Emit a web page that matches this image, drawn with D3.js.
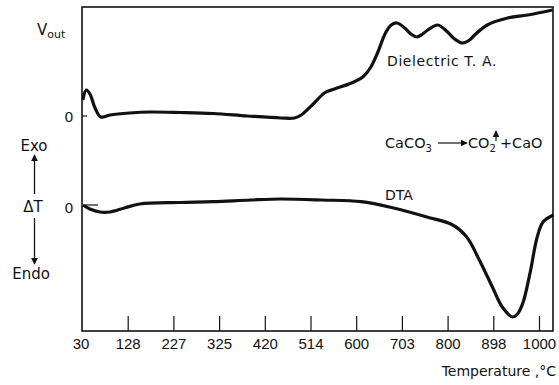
<!DOCTYPE html>
<html>
<head>
<meta charset="utf-8">
<script src="https://cdn.jsdelivr.net/npm/d3@7"></script>
<style>
  body { margin: 0; background: #fff; }
  svg text { font-family: "DejaVu Sans", sans-serif; fill: #111; }
  svg text.num { font-family: "Liberation Sans", Arial, sans-serif; }
</style>
</head>
<body>
<div id="chart"></div>
<script>
// temperature tick labels (evenly spaced on the axis)
const tempTicks = [30, 128, 227, 325, 420, 514, 600, 703, 800, 898, 1000];

// Dielectric thermal analysis trace (V_out, arbitrary units)
const dielTemp = [32, 39, 47, 58, 70, 90, 132, 176, 242, 312, 384, 453, 481, 495, 521, 540, 559, 591, 615, 633, 648, 666, 679, 692, 709, 722, 735, 747, 758, 779, 800, 815, 832, 847, 858, 885, 930, 975, 1030];
const dielVout = [16, 26, 22, 8, -1, 1, 3, 4, 3.5, 2.5, 0, -2, -2, 1, 13, 23, 27, 33, 39, 49, 63, 83, 91, 93, 88, 82, 79, 82, 86, 91, 84, 77, 73, 76, 81, 91, 98, 101, 106];

// DTA trace (delta T, arbitrary units)
const dtaTemp = [32, 47, 68, 90, 121, 154, 242, 312, 390, 453, 535, 611, 684, 756, 811, 841, 868, 896, 918, 941, 952, 964, 980, 996, 1009, 1032];
const dtaDelta = [2, -2, -5, -5, -1, 3, 4.5, 5.3, 7, 8, 7, 5.3, -1, -10, -18, -30, -53, -80, -100, -110, -107, -96, -66, -30, -15, -8];

const W = 559, H = 385;
const frame = { left: 82, right: 553, top: 7, bottom: 331 };

const svg = d3.select("#chart").append("svg")
    .attr("width", W)
    .attr("height", H);

// x: the printed tick values sit at equal spacing
const step = 45.7;
const x = d3.scaleLinear()
    .domain(tempTicks)
    .range(tempTicks.map((d, i) => frame.left + i * step));

const yDiel = d3.scaleLinear().domain([0, 100]).range([116, 16]);
const yDta = d3.scaleLinear().domain([0, -100]).range([207, 307]);

// frame
svg.append("rect")
    .attr("x", frame.left)
    .attr("y", frame.top)
    .attr("width", frame.right - frame.left)
    .attr("height", frame.bottom - frame.top)
    .attr("fill", "none")
    .attr("stroke", "#111")
    .attr("stroke-width", 1.6);

// bottom axis with inward ticks
const xAxis = d3.axisBottom(x)
    .tickValues(tempTicks)
    .tickSizeInner(-15)
    .tickSizeOuter(0)
    .tickPadding(3)
    .tickFormat(d3.format("d"));

const gx = svg.append("g")
    .attr("transform", `translate(0, ${frame.bottom})`)
    .call(xAxis);
gx.select(".domain").remove();
gx.selectAll("line").attr("stroke", "#111").attr("stroke-width", 1.2);
gx.selectAll("line").filter(d => d === 30).remove();
gx.selectAll("text")
    .attr("class", "num")
    .attr("dy", "1em")
    .attr("x", d => d === 30 ? -1.5 : 0)
    .style("font-size", "15px")
    .attr("fill", "#111");

svg.append("text")
    .attr("x", 556)
    .attr("y", 376)
    .attr("text-anchor", "end")
    .style("font-size", "14px")
    .text("Temperature ,°C");

// zero marks on the left
svg.append("line")
    .attr("x1", frame.left).attr("x2", frame.left + 5)
    .attr("y1", yDiel(0)).attr("y2", yDiel(0))
    .attr("stroke", "#111").attr("stroke-width", 1.2);
svg.append("line")
    .attr("x1", frame.left + 3).attr("x2", frame.left + 16)
    .attr("y1", yDta(0) - 2).attr("y2", yDta(0) - 2)
    .attr("stroke", "#111").attr("stroke-width", 1.2);

svg.append("text").attr("class", "num")
    .attr("x", 69).attr("y", yDiel(0) + 5.5)
    .attr("text-anchor", "middle")
    .style("font-size", "15px")
    .text("0");
svg.append("text").attr("class", "num")
    .attr("x", 69).attr("y", yDta(0) + 5.5)
    .attr("text-anchor", "middle")
    .style("font-size", "15px")
    .text("0");

// V_out label
const vout = svg.append("text")
    .attr("x", 37).attr("y", 35)
    .style("font-size", "15px");
vout.append("tspan").text("V");
vout.append("tspan").attr("dy", 3).style("font-size", "11px").text("out");

// Exo / delta T / Endo with arrows
svg.append("defs").append("marker")
    .attr("id", "head")
    .attr("viewBox", "0 0 10 10")
    .attr("refX", 9).attr("refY", 5)
    .attr("markerWidth", 7).attr("markerHeight", 8)
    .attr("markerUnits", "userSpaceOnUse")
    .attr("orient", "auto")
    .append("path")
    .attr("d", "M0,0 L10,5 L0,10 Z")
    .attr("fill", "#111");

svg.append("text").attr("x", 34).attr("y", 151)
    .attr("text-anchor", "middle").style("font-size", "15px").text("Exo");
svg.append("text").attr("x", 33).attr("y", 212)
    .attr("text-anchor", "middle").style("font-size", "15px").text("ΔT");
svg.append("text").attr("x", 31).attr("y", 279)
    .attr("text-anchor", "middle").style("font-size", "15px").text("Endo");

svg.append("line")
    .attr("x1", 34.5).attr("x2", 34.5).attr("y1", 194).attr("y2", 155)
    .attr("stroke", "#111").attr("stroke-width", 1.3)
    .attr("marker-end", "url(#head)");
svg.append("line")
    .attr("x1", 34.5).attr("x2", 34.5).attr("y1", 218).attr("y2", 264)
    .attr("stroke", "#111").attr("stroke-width", 1.3)
    .attr("marker-end", "url(#head)");

// curves
const dielLine = d3.line()
    .x(d => x(d[0]))
    .y(d => yDiel(d[1]))
    .curve(d3.curveCatmullRom);

const dtaLine = d3.line()
    .x(d => x(d[0]))
    .y(d => yDta(d[1]))
    .curve(d3.curveCatmullRom);

svg.append("path")
    .datum(d3.zip(dielTemp, dielVout))
    .attr("d", dielLine)
    .attr("fill", "none")
    .attr("stroke", "#111")
    .attr("stroke-width", 3.2)
    .attr("stroke-linejoin", "round");

svg.append("path")
    .datum(d3.zip(dtaTemp, dtaDelta))
    .attr("d", dtaLine)
    .attr("fill", "none")
    .attr("stroke", "#111")
    .attr("stroke-width", 3.2)
    .attr("stroke-linejoin", "round");

// curve labels
svg.append("text").attr("x", 387).attr("y", 66)
    .style("font-size", "14px").style("letter-spacing", "0.6px")
    .text("Dielectric  T. A.");
svg.append("text").attr("x", 385).attr("y", 200)
    .style("font-size", "14px").text("DTA");

// reaction
const eq = svg.append("text").attr("x", 385).attr("y", 148)
    .style("font-size", "14.5px");
eq.append("tspan").text("CaCO");
eq.append("tspan").attr("dy", 4).style("font-size", "10px").text("3");

svg.append("line")
    .attr("x1", 438).attr("x2", 467).attr("y1", 143).attr("y2", 143)
    .attr("stroke", "#111").attr("stroke-width", 1.2)
    .attr("marker-end", "url(#head)");

const eq2 = svg.append("text").attr("x", 468).attr("y", 148)
    .style("font-size", "14.5px");
eq2.append("tspan").text("CO");
eq2.append("tspan").attr("dy", 4).style("font-size", "10px").text("2");
eq2.append("tspan").attr("dy", -4).attr("dx", 4).text("+CaO");

// little gas-release arrow above CO2
svg.append("line")
    .attr("x1", 496).attr("x2", 496).attr("y1", 141).attr("y2", 131)
    .attr("stroke", "#111").attr("stroke-width", 1.2)
    .attr("marker-end", "url(#head)");
</script>
</body>
</html>
